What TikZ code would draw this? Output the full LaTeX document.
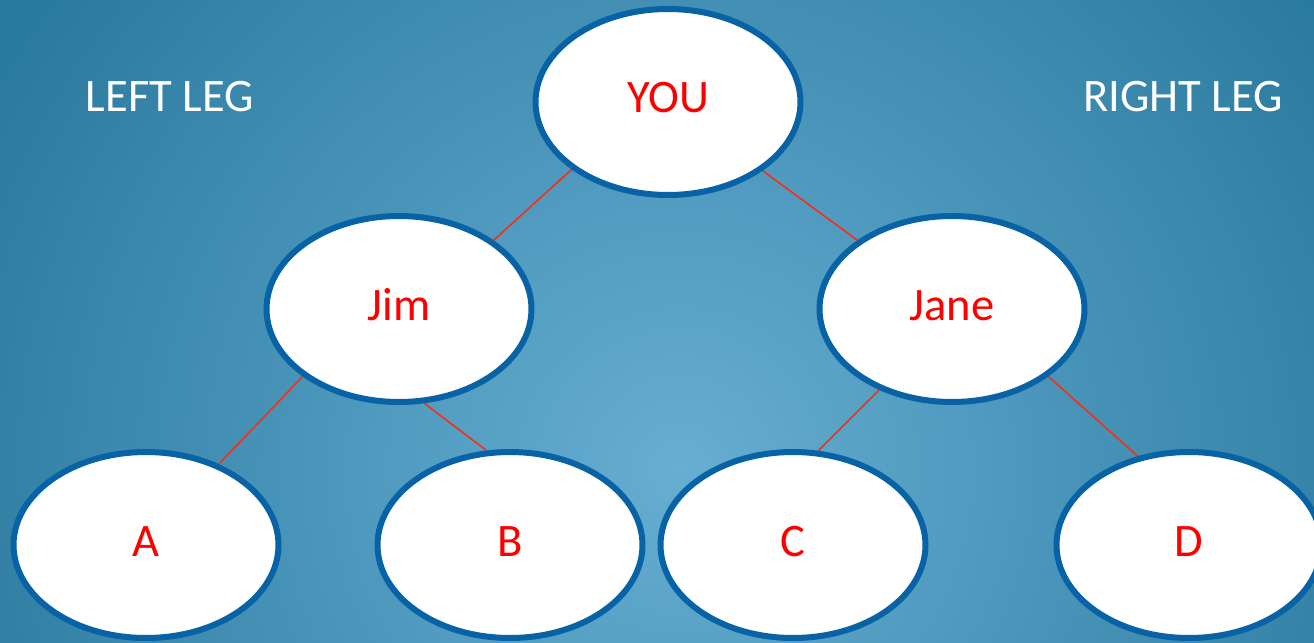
\documentclass[tikz,border=0pt]{standalone}
\usepackage{fontspec}
\setmainfont{Carlito}
\usetikzlibrary{shapes.geometric,backgrounds}

\definecolor{bglight}{HTML}{66AED2}
\definecolor{bgdark}{HTML}{2A7A9E}
\definecolor{rimblue}{HTML}{0762A6}
\definecolor{linkred}{HTML}{FF2A0A}
\pgfdeclareradialshading{bluebg}{\pgfpoint{0bp}{0bp}}{color(0bp)=(bglight); color(23bp)=(bgdark); color(50bp)=(bgdark)}

\begin{document}
\begin{tikzpicture}[x=0.02cm,y=-0.02cm,
		person/.style={ellipse,draw=rimblue,line width=0.12cm,fill=white,inner sep=0pt,
			minimum width=5.3cm,minimum height=3.72cm,text=red,
			font=\fontsize{26.5}{30}\selectfont,text height=0.6cm,text depth=0.16cm},
		legtext/.style={text=white,font=\fontsize{26.5}{30}\selectfont,inner sep=0pt,anchor=base},
		link/.style={draw=linkred,line width=0.03cm}]
	\useasboundingbox (0,0) rectangle (1314,642);
	
	% tree
	\node[person] (you) at (668,102) {YOU};
	\node[person] (jim) at (399,309) {Jim};
	\node[person] (jane) at (952,309) {Jane};
	\node[person] (a) at (146,545) {A};
	\node[person] (b) at (510,545) {B};
	\node[person] (c) at (793,545) {C};
	\node[person] (d) at (1189,545) {D};
	
	\node[legtext] (leftleg) at (170,112) {LEFT LEG};
	\node[legtext] (rightleg) at (1183,112) {RIGHT LEG};
	
	\begin{pgfonlayer}{background}
		\clip (0,0) rectangle (1314,642);
		\fill[bgdark] (0,0) rectangle (1314,642);
		\shade[shading=bluebg] (680,470) circle (860);
		\draw[link] (you.215) -- (jim.36);
		\draw[link] (you.324) -- (jane.144);
		\draw[link] (jim.215) -- (a.48);
		\draw[link] (jim.285) -- (b.104);
		\draw[link] (jane.228) -- (c.75);
		\draw[link] (jane.325) -- (d.120);
	\end{pgfonlayer}
\end{tikzpicture}
\end{document}
